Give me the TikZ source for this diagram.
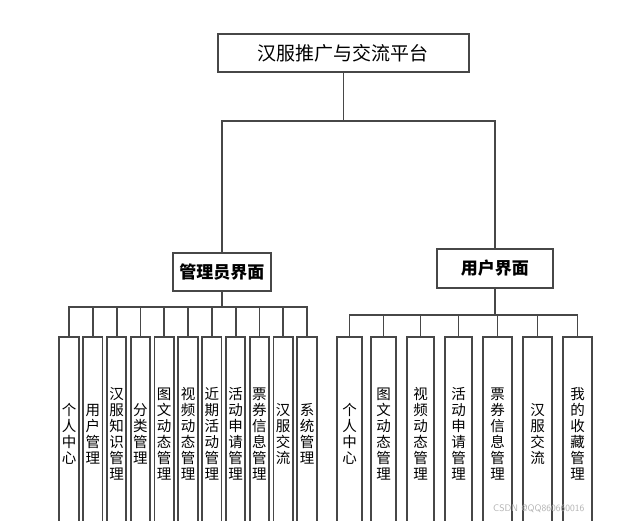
\documentclass[tikz,border=0pt]{standalone}
\usepackage{fontspec}
\newfontfamily\cjk{Noto Sans CJK SC}
\begin{document}
\begin{tikzpicture}[x=1pt,y=-1pt,
  ln/.style={draw=black!72,line width=1.8pt},
  topbox/.style={ln,fill=white,inner sep=0pt,anchor=north west},
  leaf/.style={ln,fill=white,inner sep=0pt,anchor=north,minimum height=194pt,
     align=center,font=\cjk\fontsize{14.5}{16}\selectfont},
  conn/.style={draw=black!72,line width=1.8pt}]
\useasboundingbox (0,0) rectangle (619,521);
\clip (0,0) rectangle (619,521);
% top level
\node[topbox,minimum width=251pt,minimum height=38pt,font=\cjk\fontsize{19}{19}\selectfont] (top) at (217,33) {汉服推广与交流平台};
\node[topbox,minimum width=98pt,minimum height=38pt,font=\cjk\bfseries\fontsize{17}{17}\selectfont] (admin) at (172,252) {管理员界面};
\node[topbox,minimum width=116pt,minimum height=39pt,font=\cjk\bfseries\fontsize{17}{17}\selectfont] (user) at (436,248) {用户界面};
\coordinate (tbus) at ([yshift=-48pt]top.south);
\draw[conn] (top.south) -- (tbus);
\draw[conn] (tbus) -| (admin.north);
\draw[conn] (tbus) -| (user.north);
\coordinate (abus) at ([yshift=-15pt]admin.south);
\coordinate (ubus) at ([yshift=-26pt]user.south);
\draw[conn] (admin.south) -- (abus);
\draw[conn] (user.south) -- (ubus);
% admin leaves
\foreach \i/\t in {0/{个\\人\\中\\心},1/{用\\户\\管\\理},2/{汉\\服\\知\\识\\管\\理},3/{分\\类\\管\\理},4/{图\\文\\动\\态\\管\\理},5/{视\\频\\动\\态\\管\\理},6/{近\\期\\活\\动\\管\\理},7/{活\\动\\申\\请\\管\\理},8/{票\\券\\信\\息\\管\\理},9/{汉\\服\\交\\流},10/{系\\统\\管\\理}}{
  \node[leaf,minimum width=19.5pt] (a\i) at ({69+23.8*\i},336) {\t};
  \draw[conn] (abus) -| (a\i.north);
}
% user leaves
\foreach \i/\cx/\w/\t in {0/349.5/25.5/{个\\人\\中\\心},1/383.5/25.5/{图\\文\\动\\态\\管\\理},2/420.5/27/{视\\频\\动\\态\\管\\理},3/458.5/27/{活\\动\\申\\请\\管\\理},4/497.5/29/{票\\券\\信\\息\\管\\理},5/537.5/29/{汉\\服\\交\\流},6/577.5/29/{我\\的\\收\\藏\\管\\理}}{
  \node[leaf,minimum width=\w pt] (u\i) at (\cx,336) {\t};
  \draw[conn] (ubus) -| (u\i.north);
}
\node[text=black!30,font=\sffamily\fontsize{9.5}{10}\selectfont,anchor=west,inner sep=0pt] (wm) at (493,509) {CSDN @QQ860660016};
\end{tikzpicture}
\end{document}
